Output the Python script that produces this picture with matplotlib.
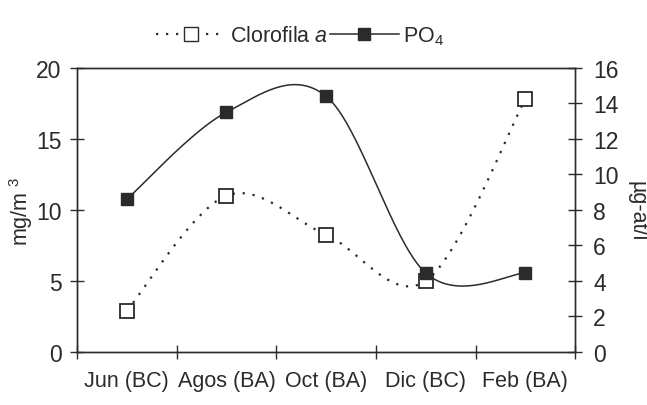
import numpy as np
import matplotlib
matplotlib.use("Agg")
import matplotlib.pyplot as plt
from matplotlib.ticker import FixedLocator, NullFormatter

# values
months = ["Jun (BC)", "Agos (BA)", "Oct (BA)", "Dic (BC)", "Feb (BA)"]
clorofila = [2.9, 11.0, 8.25, 5.0, 17.8]   # mg/m3, left axis
po4 = [8.6, 13.5, 14.4, 4.45, 4.45]        # ug-at/l, right axis

plt.rcParams["font.family"] = ["Liberation Sans", "DejaVu Sans"]
plt.rcParams["mathtext.fontset"] = "custom"
plt.rcParams["mathtext.rm"] = "Liberation Sans"
plt.rcParams["mathtext.it"] = "Liberation Sans:italic"

ink = "#2b2b2b"
fs = 15.5


def smooth(xs, ys, n=40):
    # Excel-style smoothed line: cubic Bezier through each pair of points
    p = np.column_stack([xs, ys]).astype(float)
    ext = np.vstack([p[0], p, p[-1]])
    t = np.linspace(0, 1, n)[:, None]
    out = []
    for i in range(len(p) - 1):
        p0, p1 = ext[i + 1], ext[i + 2]
        c1 = p0 + (ext[i + 2] - ext[i]) / 6
        c2 = p1 - (ext[i + 3] - ext[i + 1]) / 6
        seg = ((1 - t) ** 3) * p0 + 3 * ((1 - t) ** 2) * t * c1 + 3 * (1 - t) * t ** 2 * c2 + t ** 3 * p1
        out.append(seg)
    out = np.vstack(out)
    return out[:, 0], out[:, 1]


x = np.arange(len(months))

fig = plt.figure(figsize=(6.47, 4.06), dpi=100)
ax = fig.add_axes([0.119, 0.1305, 0.77, 0.70])
ax2 = ax.twinx()

cx, cy = smooth(x, clorofila)
ax.plot(cx, cy, color=ink, lw=1.6, linestyle=(0, (1.0, 3.5)))
ax.plot(x, clorofila, linestyle="none", marker="s", markersize=9.5,
        markerfacecolor="white", markeredgecolor=ink, markeredgewidth=1.3)

px, py = smooth(x, po4)
ax2.plot(px, py, color=ink, lw=1.1)
ax2.plot(x, po4, linestyle="none", marker="s", markersize=8,
         markerfacecolor=ink, markeredgecolor=ink)

ax.set_xlim(-0.5, len(months) - 0.5)
ax.set_ylim(0, 20)
ax2.set_ylim(0, 16)
ax.set_yticks([0, 5, 10, 15, 20])
ax2.set_yticks(range(0, 17, 2))

ax.set_xticks(x)
ax.set_xticklabels(months)
ax.xaxis.set_minor_locator(FixedLocator(np.arange(-0.5, len(months), 1.0)))
ax.xaxis.set_minor_formatter(NullFormatter())
ax.tick_params(axis="x", which="major", length=0, pad=13, labelsize=fs, colors=ink)
ax.tick_params(axis="x", which="minor", direction="inout", length=10, width=1, color=ink)
ax.tick_params(axis="y", direction="inout", length=10, width=1, labelsize=fs + 1, colors=ink, pad=6)
ax2.tick_params(axis="y", direction="inout", length=10, width=1, labelsize=fs + 1, colors=ink, pad=8)

for a in (ax, ax2):
    for s in a.spines.values():
        s.set_color(ink)
        s.set_linewidth(1)

ax.set_ylabel(r"mg/m $^{3}$", fontsize=fs, color=ink, va="center")
ax.yaxis.set_label_coords(-0.112, 0.5)
ax2.set_ylabel("µg-at/l", fontsize=fs, color=ink, rotation=270, va="center")
ax2.yaxis.set_label_coords(1.124, 0.5)

h1 = plt.Line2D([], [], color=ink, lw=1.6, linestyle=(0, (1.0, 3.5)), marker="s",
                markersize=9.5, markerfacecolor="white", markeredgecolor=ink)
h2 = plt.Line2D([], [], color=ink, lw=1.1, marker="s", markersize=8,
                markerfacecolor=ink, markeredgecolor=ink)
fig.legend([h1, h2], [r"Clorofila $a$", r"PO$_4$"], loc="center", bbox_to_anchor=(0.464, 0.91),
           ncol=2, frameon=False, fontsize=fs, handlelength=3.2, handletextpad=0.2,
           columnspacing=0.1, labelcolor=ink)

fig.savefig("out.png", dpi=100)
